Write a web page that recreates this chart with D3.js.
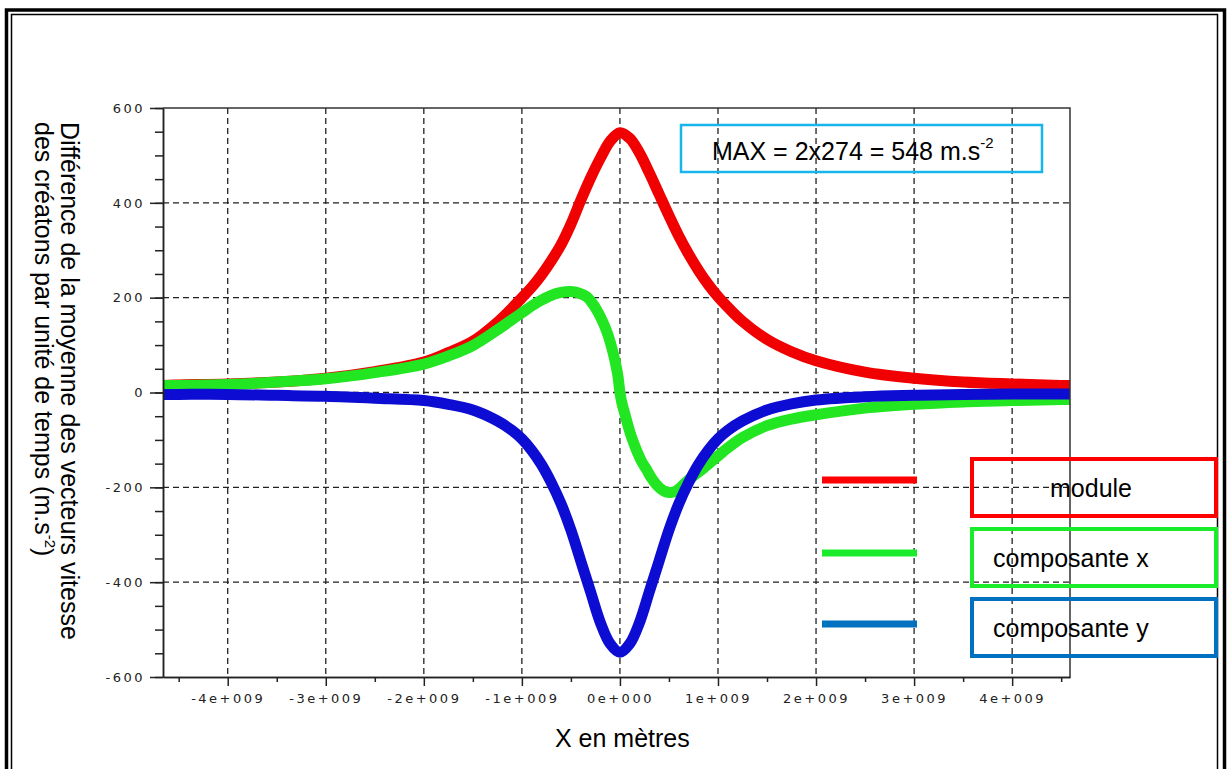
<!DOCTYPE html>
<html>
<head>
<meta charset="utf-8">
<script src="https://cdn.jsdelivr.net/npm/d3@7"></script>
<style>
  body { margin: 0; background: #fff; }
  svg { display: block; font-family: "Liberation Sans", Arial, sans-serif; }
</style>
</head>
<body>
<svg id="chart" width="1227" height="769"></svg>
<script>
// ---- data (x in metres, y in m.s-2) ----
const xTicks = [-4e9, -3e9, -2e9, -1e9, 0, 1e9, 2e9, 3e9, 4e9];
const xTickLabels = ["-4e+009", "-3e+009", "-2e+009", "-1e+009", "0e+000", "1e+009", "2e+009", "3e+009", "4e+009"];
const xMinorTicks = [-4.5e9, -3.5e9, -2.5e9, -1.5e9, -0.5e9, 0.5e9, 1.5e9, 2.5e9, 3.5e9, 4.5e9];
const yTicks = [-600, -400, -200, 0, 200, 400, 600];
const yTickLabels = ["-600", "-400", "-200", "0", "200", "400", "600"];
const yMinorTicks = d3.range(-600, 601, 50);
const xDomain = [-4.66e9, 4.59e9];
const yDomain = [-600, 600];

const xModule = [-4.66e9, -4.5e9, -4e9, -3.5e9, -3e9, -2.5e9, -2e9, -1.75e9, -1.5e9, -1.25e9, -1.1e9, -1e9, -0.9e9, -0.8e9, -0.7e9, -0.6e9, -0.5e9, -0.4e9, -0.3e9, -0.2e9, -0.1e9, 0,
  0.1e9, 0.2e9, 0.3e9, 0.4e9, 0.5e9, 0.6e9, 0.7e9, 0.8e9, 0.9e9, 1e9, 1.1e9, 1.25e9, 1.5e9, 1.75e9, 2e9, 2.5e9, 3e9, 3.5e9, 4e9, 4.5e9, 4.59e9];
const moduleValues = [15, 16, 18, 22, 30, 44, 64, 84, 108, 148, 178, 200, 222, 248, 278, 312, 355, 405, 452, 494, 530, 548,
  536, 505, 463, 418, 373, 330, 292, 258, 228, 202, 180, 150, 112, 86, 67, 43, 30, 22, 18, 15, 15];

const xCompY = xModule;
const compYValues = [-4, -4, -4, -6, -8, -12, -17, -25, -37, -60, -80, -98, -122, -152, -190, -235, -290, -355, -420, -485, -530, -548,
  -530, -485, -420, -355, -290, -235, -190, -152, -122, -98, -80, -60, -37, -24, -16, -9, -6, -4, -3, -3, -3];

const xCompX = [-4.66e9, -4.5e9, -4e9, -3.5e9, -3e9, -2.5e9, -2e9, -1.75e9, -1.5e9, -1.25e9, -1e9, -0.85e9, -0.7e9, -0.6e9, -0.5e9, -0.42e9, -0.34e9, -0.28e9, -0.22e9, -0.16e9, -0.12e9, -0.08e9, -0.05e9, -0.02e9, 0,
  0.02e9, 0.05e9, 0.08e9, 0.12e9, 0.17e9, 0.22e9, 0.27e9, 0.32e9, 0.37e9, 0.42e9, 0.47e9, 0.52e9, 0.57e9, 0.62e9, 0.67e9, 0.75e9, 0.85e9, 1e9, 1.1e9, 1.25e9, 1.5e9, 1.75e9, 2e9, 2.5e9, 3e9, 3.5e9, 4e9, 4.5e9, 4.59e9];
const compXValues = [15, 15, 17, 22, 29, 42, 60, 77, 99, 132, 168, 189, 205, 211, 213, 210, 202, 188, 168, 142, 120, 92, 66, 34, 0,
  -22, -45, -68, -95, -122, -145, -162, -180, -194, -204, -210, -211, -208, -200, -190, -176, -160, -134, -117, -95, -70, -56, -47, -33, -25, -20, -17, -15, -15];

const seriesNames = ["module", "composante x", "composante y"];
const annotation = { text: "MAX = 2x274 = 548 m.s", sup: "-2" };
const xTitle = "X en mètres";
const yTitle1 = "Différence de la moyenne des vecteurs vitesse";
const yTitle2 = "des créatons par unité de temps (m.s";

// ---- layout ----
const plot = { left: 163, right: 1070, top: 108, bottom: 677 };
const svg = d3.select("#chart");

// double frame round the page
svg.append("rect").attr("x", 6.5).attr("y", 10).attr("width", 1218).attr("height", 800)
  .attr("fill", "none").attr("stroke", "#000").attr("stroke-width", 3.5);
svg.append("rect").attr("x", 11.5).attr("y", 14.5).attr("width", 1206).attr("height", 800)
  .attr("fill", "none").attr("stroke", "#000").attr("stroke-width", 1.5);

const x = d3.scaleLinear().domain(xDomain).range([plot.left, plot.right]);
const y = d3.scaleLinear().domain(yDomain).range([plot.bottom, plot.top]);

// dashed grid
const grid = svg.append("g").attr("stroke", "#222").attr("stroke-width", 1.3).attr("stroke-dasharray", "6,4");
grid.selectAll("line.v").data(xTicks).join("line").attr("class", "v")
  .attr("x1", d => x(d)).attr("x2", d => x(d)).attr("y1", plot.top).attr("y2", plot.bottom);
grid.selectAll("line.h").data(yTicks.filter(d => d > yDomain[0] && d < yDomain[1])).join("line").attr("class", "h")
  .attr("y1", d => y(d)).attr("y2", d => y(d)).attr("x1", plot.left).attr("x2", plot.right);

// curves (dense markers in the original, drawn here as a thick line)
svg.append("clipPath").attr("id", "clip").append("rect")
  .attr("x", plot.left).attr("y", plot.top - 10).attr("width", plot.right - plot.left).attr("height", plot.bottom - plot.top + 20);

const line = d3.line().x(d => x(d[0])).y(d => y(d[1])).curve(d3.curveCatmullRom.alpha(0.5));
const curves = [
  { xs: xModule, ys: moduleValues, color: "#f00000" },
  { xs: xCompX, ys: compXValues, color: "#22e622" },
  { xs: xCompY, ys: compYValues, color: "#0c0cd2" }
];
const gc = svg.append("g").attr("clip-path", "url(#clip)");
curves.forEach(c => {
  gc.append("path").datum(d3.zip(c.xs, c.ys))
    .attr("fill", "none").attr("stroke", c.color).attr("stroke-width", 11)
    .attr("stroke-linejoin", "round").attr("d", line);
});

// plot box
svg.append("path").attr("d", `M${plot.left},${plot.top}H${plot.right}V${plot.bottom}`)
  .attr("fill", "none").attr("stroke", "#333").attr("stroke-width", 1.5);

// axes
function styleAxis(g) {
  g.selectAll("path, line").attr("stroke", "#222").attr("stroke-width", 1.5);
  g.selectAll("text").attr("fill", "#222").attr("font-size", 13)
    .attr("letter-spacing", 2.5).attr("font-family", "'DejaVu Sans', sans-serif");
}
svg.append("g").attr("transform", `translate(0,${plot.bottom})`)
  .call(d3.axisBottom(x).tickValues(xMinorTicks).tickSize(5).tickSizeOuter(0).tickFormat(""))
  .call(styleAxis);
svg.append("g").attr("transform", `translate(0,${plot.bottom})`)
  .call(d3.axisBottom(x).tickValues(xTicks).tickSize(9).tickSizeOuter(0).tickPadding(8)
    .tickFormat((d, i) => xTickLabels[i]))
  .call(styleAxis);
svg.append("g").attr("transform", `translate(${plot.left},0)`)
  .call(d3.axisLeft(y).tickValues(yMinorTicks).tickSize(8).tickSizeOuter(0).tickFormat(""))
  .call(styleAxis);
svg.append("g").attr("transform", `translate(${plot.left},0)`)
  .call(d3.axisLeft(y).tickValues(yTicks).tickSize(13).tickSizeOuter(0).tickPadding(5)
    .tickFormat((d, i) => yTickLabels[i]))
  .call(styleAxis);

// axis titles
svg.append("text").attr("x", 555).attr("y", 747).attr("font-size", 25).text(xTitle);
svg.append("text").attr("transform", "translate(61,122) rotate(90)").attr("font-size", 25).text(yTitle1);
const yt2 = svg.append("text").attr("transform", "translate(35,122) rotate(90)").attr("font-size", 25).text(yTitle2);
yt2.append("tspan").attr("dy", -10).attr("font-size", 15).text("-2");
yt2.append("tspan").attr("dy", 10).text(")");

// MAX annotation
svg.append("rect").attr("x", 681).attr("y", 125).attr("width", 361).attr("height", 47)
  .attr("fill", "none").attr("stroke", "#18b4ec").attr("stroke-width", 2.5);
const ann = svg.append("text").attr("x", 712).attr("y", 160).attr("font-size", 25).text(annotation.text);
ann.append("tspan").attr("dy", -12).attr("font-size", 15).text(annotation.sup);

// legend
const legendColors = ["#ff0000", "#1aeb2a", "#0070c0"];
const legendLineY = [480, 553, 624];
const legendBoxY = [459, 529, 599];
const lg = svg.append("g");
seriesNames.forEach((name, i) => {
  lg.append("line").attr("x1", 822).attr("x2", 917).attr("y1", legendLineY[i]).attr("y2", legendLineY[i])
    .attr("stroke", legendColors[i]).attr("stroke-width", 7);
  lg.append("rect").attr("x", 972).attr("y", legendBoxY[i]).attr("width", 244).attr("height", 57)
    .attr("fill", "none").attr("stroke", legendColors[i]).attr("stroke-width", 4);
  lg.append("text").attr("x", i === 0 ? 1050 : 993).attr("y", legendBoxY[i] + 38)
    .attr("font-size", 25).text(name);
});
</script>
</body>
</html>
